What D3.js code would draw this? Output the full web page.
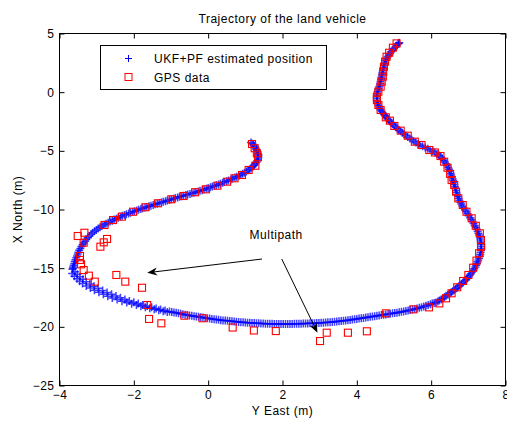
<!DOCTYPE html>
<html>
<head>
<meta charset="utf-8">
<script src="https://cdn.jsdelivr.net/npm/d3@7"></script>
<style>
  html, body { margin: 0; padding: 0; background: #fff; }
  svg { display: block; }
  text { font-family: "Liberation Sans", Arial, Helvetica, sans-serif; fill: #000; }
</style>
</head>
<body>
<svg id="chart" width="507" height="422"></svg>
<script>
// Axis ticks
const eastTicks = [-4, -2, 0, 2, 4, 6, 8];
const northTicks = [-25, -20, -15, -10, -5, 0, 5];

// Filtered (UKF+PF) trajectory, [east, north] in metres
const ukfPath = [
  [1.15,-4.28],[1.19,-4.39],[1.22,-4.50],[1.25,-4.61],[1.27,-4.72],[1.29,-4.84],[1.31,-4.95],[1.33,-5.08],
  [1.34,-5.20],[1.35,-5.33],[1.35,-5.45],[1.35,-5.59],[1.34,-5.72],[1.32,-5.85],[1.30,-5.98],[1.27,-6.10],
  [1.24,-6.22],[1.20,-6.34],[1.16,-6.45],[1.12,-6.56],[1.08,-6.66],[1.03,-6.76],[0.98,-6.86],[0.93,-6.95],
  [0.88,-7.04],[0.83,-7.12],[0.77,-7.20],[0.72,-7.28],[0.66,-7.36],[0.61,-7.44],[0.55,-7.52],[0.50,-7.59],
  [0.44,-7.66],[0.39,-7.73],[0.33,-7.80],[0.28,-7.87],[0.22,-7.93],[0.17,-7.99],[0.11,-8.05],[0.06,-8.11],
  [0.00,-8.17],[-0.05,-8.23],[-0.11,-8.29],[-0.16,-8.35],[-0.22,-8.40],[-0.27,-8.46],[-0.33,-8.51],[-0.38,-8.57],
  [-0.44,-8.62],[-0.49,-8.67],[-0.55,-8.72],[-0.60,-8.77],[-0.66,-8.82],[-0.71,-8.87],[-0.77,-8.92],[-0.82,-8.98],
  [-0.88,-9.03],[-0.93,-9.08],[-0.99,-9.13],[-1.04,-9.19],[-1.10,-9.24],[-1.15,-9.30],[-1.21,-9.35],[-1.26,-9.40],
  [-1.32,-9.45],[-1.37,-9.51],[-1.43,-9.56],[-1.48,-9.62],[-1.54,-9.67],[-1.59,-9.73],[-1.65,-9.78],[-1.70,-9.84],
  [-1.76,-9.90],[-1.81,-9.96],[-1.87,-10.02],[-1.92,-10.08],[-1.98,-10.14],[-2.03,-10.21],[-2.09,-10.27],[-2.14,-10.34],
  [-2.20,-10.40],[-2.25,-10.47],[-2.31,-10.54],[-2.36,-10.62],[-2.42,-10.70],[-2.47,-10.78],[-2.53,-10.86],[-2.58,-10.95],
  [-2.64,-11.03],[-2.69,-11.12],[-2.75,-11.21],[-2.80,-11.31],[-2.86,-11.41],[-2.91,-11.51],[-2.96,-11.62],[-3.01,-11.74],
  [-3.06,-11.86],[-3.11,-11.99],[-3.15,-12.12],[-3.20,-12.26],[-3.24,-12.40],[-3.28,-12.55],[-3.31,-12.70],[-3.35,-12.85],
  [-3.38,-13.00],[-3.41,-13.16],[-3.44,-13.32],[-3.47,-13.48],[-3.49,-13.64],[-3.51,-13.80],[-3.53,-13.96],[-3.55,-14.12],
  [-3.57,-14.28],[-3.59,-14.44],[-3.60,-14.60],[-3.62,-14.75],[-3.63,-14.90],[-3.64,-15.00],[-3.65,-15.10],
  [-3.66,-15.45],[-3.58,-15.30],[-3.60,-15.68],[-3.52,-15.52],[-3.53,-15.90],[-3.45,-15.74],[-3.46,-16.11],[-3.37,-15.95],
  [-3.38,-16.31],[-3.28,-16.15],[-3.28,-16.51],[-3.18,-16.35],[-3.17,-16.70],[-3.07,-16.54],[-3.06,-16.88],[-2.96,-16.72],
  [-2.94,-17.06],[-2.84,-16.90],[-2.82,-17.23],[-2.72,-17.07],[-2.70,-17.39],[-2.60,-17.23],[-2.58,-17.54],[-2.48,-17.38],
  [-2.45,-17.68],[-2.36,-17.52],[-2.32,-17.81],[-2.24,-17.66],[-2.19,-17.93],[-2.12,-17.79],[-2.06,-18.04],[-2.00,-17.91],
  [-1.93,-18.14],[-1.88,-18.02],[-1.81,-18.24],[-1.76,-18.13],[-1.69,-18.33],[-1.64,-18.23],[-1.57,-18.42],[-1.52,-18.33],
  [-1.45,-18.51],[-1.40,-18.43],[-1.33,-18.59],[-1.28,-18.52],[-1.21,-18.67],[-1.16,-18.61],[-1.10,-18.73],[-1.04,-18.69],
  [-0.98,-18.73],[-0.92,-18.77],[-0.86,-18.81],[-0.80,-18.85],[-0.74,-18.89],[-0.68,-18.92],[-0.62,-18.96],[-0.56,-18.99],
  [-0.50,-19.03],[-0.44,-19.06],[-0.38,-19.09],[-0.32,-19.12],[-0.26,-19.15],[-0.20,-19.18],[-0.14,-19.21],[-0.08,-19.24],
  [-0.02,-19.27],[0.04,-19.30],[0.10,-19.33],[0.16,-19.35],[0.22,-19.38],[0.28,-19.40],[0.34,-19.43],[0.40,-19.45],
  [0.46,-19.47],[0.52,-19.49],[0.58,-19.51],[0.64,-19.53],[0.70,-19.55],[0.76,-19.57],[0.82,-19.59],[0.88,-19.60],
  [0.94,-19.62],[1.00,-19.63],[1.06,-19.65],[1.12,-19.66],[1.18,-19.67],[1.24,-19.68],[1.30,-19.69],[1.36,-19.70],
  [1.42,-19.71],[1.48,-19.72],[1.54,-19.73],[1.60,-19.73],[1.66,-19.74],[1.72,-19.74],[1.78,-19.75],[1.84,-19.75],
  [1.90,-19.75],[1.96,-19.75],[2.02,-19.75],[2.08,-19.75],[2.14,-19.75],[2.20,-19.75],[2.26,-19.75],[2.32,-19.74],
  [2.38,-19.74],[2.44,-19.73],[2.50,-19.73],[2.56,-19.72],[2.62,-19.72],[2.68,-19.71],[2.74,-19.70],[2.80,-19.69],
  [2.86,-19.69],[2.92,-19.68],[2.98,-19.67],[3.04,-19.66],[3.10,-19.65],[3.16,-19.63],[3.22,-19.62],[3.28,-19.60],
  [3.34,-19.59],[3.40,-19.57],[3.46,-19.55],[3.52,-19.53],[3.58,-19.51],[3.64,-19.48],[3.70,-19.46],[3.76,-19.43],
  [3.82,-19.41],[3.88,-19.38],[3.94,-19.36],[4.00,-19.33],[4.06,-19.30],[4.12,-19.27],[4.18,-19.24],[4.24,-19.21],
  [4.30,-19.18],[4.36,-19.15],[4.42,-19.12],[4.48,-19.09],[4.54,-19.06],[4.60,-19.03],[4.66,-19.00],[4.72,-18.97],
  [4.78,-18.94],[4.84,-18.91],[4.90,-18.88],[4.96,-18.85],[5.02,-18.82],[5.08,-18.79],[5.14,-18.76],[5.20,-18.72],
  [5.26,-18.69],[5.32,-18.65],[5.38,-18.61],[5.44,-18.57],[5.50,-18.53],[5.56,-18.48],[5.62,-18.43],[5.68,-18.38],
  [5.74,-18.33],[5.80,-18.27],[5.86,-18.21],[5.92,-18.14],[5.98,-18.08],[6.03,-18.02],[6.08,-17.97],[6.13,-17.92],
  [6.18,-17.84],[6.22,-17.76],[6.27,-17.66],[6.31,-17.56],[6.36,-17.46],[6.40,-17.36],[6.45,-17.26],[6.50,-17.15],
  [6.54,-17.06],[6.58,-16.96],[6.62,-16.86],[6.66,-16.76],[6.70,-16.66],[6.74,-16.55],[6.78,-16.44],[6.82,-16.33],
  [6.86,-16.22],[6.90,-16.10],[6.94,-15.98],[6.97,-15.86],[7.01,-15.73],[7.04,-15.60],[7.07,-15.47],[7.10,-15.33],
  [7.13,-15.19],[7.16,-15.05],[7.19,-14.91],[7.21,-14.76],[7.23,-14.61],[7.25,-14.46],[7.27,-14.31],[7.29,-14.15],
  [7.31,-13.99],[7.32,-13.83],[7.33,-13.67],[7.34,-13.50],[7.35,-13.34],[7.35,-13.17],[7.35,-13.00],[7.34,-12.84],
  [7.33,-12.68],[7.32,-12.51],[7.31,-12.35],[7.29,-12.18],[7.27,-12.02],[7.25,-11.85],[7.23,-11.69],[7.20,-11.52],
  [7.17,-11.36],[7.14,-11.19],[7.11,-11.03],[7.08,-10.86],[7.05,-10.70],[7.01,-10.53],[6.98,-10.37],[6.94,-10.20],
  [6.91,-10.04],[6.87,-9.87],[6.84,-9.71],[6.81,-9.54],[6.79,-9.38],[6.76,-9.21],[6.74,-9.05],[6.72,-8.88],
  [6.70,-8.72],[6.68,-8.55],[6.67,-8.39],[6.65,-8.22],[6.64,-8.06],[6.62,-7.89],[6.61,-7.73],[6.59,-7.56],
  [6.58,-7.40],[6.56,-7.23],[6.54,-7.07],[6.52,-6.90],[6.50,-6.74],[6.48,-6.57],[6.46,-6.41],[6.43,-6.25],
  [6.40,-6.10],[6.37,-5.95],[6.34,-5.81],[6.30,-5.66],[6.26,-5.53],[6.21,-5.39],[6.16,-5.26],[6.10,-5.14],
  [6.04,-5.04],[5.97,-4.93],[5.91,-4.83],[5.84,-4.72],[5.77,-4.62],[5.70,-4.52],[5.65,-4.41],[5.59,-4.30],
  [5.53,-4.18],[5.48,-4.06],[5.43,-3.94],[5.37,-3.82],[5.32,-3.70],[5.27,-3.58],[5.22,-3.46],[5.18,-3.34],
  [5.13,-3.22],[5.09,-3.10],[5.05,-2.98],[5.01,-2.86],[4.97,-2.74],[4.93,-2.62],[4.89,-2.50],[4.86,-2.38],
  [4.82,-2.26],[4.79,-2.14],[4.76,-2.02],[4.73,-1.90],[4.70,-1.78],[4.67,-1.65],[4.64,-1.52],[4.62,-1.40],
  [4.60,-1.26],[4.58,-1.13],[4.56,-0.98],[4.55,-0.84],[4.54,-0.70],[4.54,-0.55],[4.54,-0.40],[4.54,-0.26],
  [4.55,-0.11],[4.56,0.03],[4.57,0.18],[4.59,0.32],[4.60,0.47],[4.62,0.62],[4.63,0.77],[4.64,0.92],
  [4.65,1.07],[4.66,1.22],[4.67,1.37],[4.68,1.52],[4.69,1.67],[4.70,1.82],[4.71,1.97],[4.72,2.12],
  [4.73,2.27],[4.75,2.42],[4.76,2.57],[4.78,2.72],[4.80,2.87],[4.83,3.01],[4.86,3.15],[4.89,3.30],
  [4.92,3.44],[4.96,3.58],[5.00,3.72],[5.04,3.86],[5.07,3.98],[5.11,4.10],[5.13,4.16],[5.14,4.22]
];

// Raw GPS fixes, [east, north] in metres
const gpsFixes = [
  [1.18,-4.42],[1.25,-4.78],[1.31,-5.21],[1.34,-5.55],[1.27,-6.27],[1.09,-6.63],[0.91,-7.06],[0.71,-7.34],
  [0.51,-7.63],[0.25,-7.97],[-0.06,-8.28],[-0.35,-8.53],[-0.66,-8.85],[-0.99,-9.13],[-1.35,-9.47],[-1.69,-9.81],
  [-2.02,-10.19],[-2.32,-10.61],[-2.56,-10.90],[-2.79,-11.32],[-3.33,-11.98],[-3.51,-12.26],[-3.35,-12.83],[-2.72,-12.51],
  [-2.81,-12.80],[-2.90,-13.17],[-3.45,-13.96],[-3.45,-14.30],[-3.42,-14.67],[-3.35,-15.16],[-3.21,-15.64],[-3.05,-16.15],
  [-2.47,-15.58],[-2.23,-16.15],[-1.78,-16.67],[-1.64,-18.14],[-1.59,-19.33],[-1.26,-19.70],[-0.64,-19.05],[-0.15,-19.27],
  [0.66,-20.06],[1.23,-20.31],[1.82,-20.36],[3.01,-21.21],[3.19,-20.50],[3.76,-20.50],[4.27,-20.38],[4.78,-18.85],
  [5.52,-18.51],[5.94,-18.34],[6.22,-18.00],[6.40,-17.57],[6.55,-17.14],[6.70,-16.63],[6.86,-16.09],[7.00,-15.58],
  [7.13,-14.96],[7.22,-14.36],[7.29,-13.73],[7.34,-13.17],[7.34,-12.60],[7.31,-12.03],[7.20,-11.38],[7.09,-10.75],
  [6.95,-10.19],[6.85,-9.62],[6.73,-9.05],[6.67,-8.48],[6.62,-7.91],[6.55,-7.49],[6.51,-6.97],[6.44,-6.44],
  [6.35,-5.93],[6.25,-5.44],[6.10,-5.14],[5.95,-4.93],[5.74,-4.50],[5.56,-4.22],[5.37,-3.71],[5.18,-3.28],
  [5.01,-2.88],[4.89,-2.43],[4.78,-2.14],[4.64,-1.52],[4.58,-1.09],[4.54,-0.67],[4.54,-0.39],[4.58,0.04],
  [4.64,0.47],[4.67,0.89],[4.70,1.32],[4.71,1.74],[4.73,2.17],[4.76,2.60],[4.80,3.02],[4.87,3.36],
  [4.97,3.79],[5.07,4.16]
];

// Annotation: label and the two arrows pointing at multipath fixes
const multipathLabel = { text: "Multipath", at: [1.83, -12.17] };
const multipathArrows = [
  { from: [1.45, -14.22], to: [-1.64, -15.39] },
  { from: [1.98, -14.22], to: [2.94, -20.50] }
];

const seriesNames = ["UKF+PF estimated position", "GPS data"];

const svg = d3.select("#chart");
const box = { left: 59.5, right: 505.5, top: 33.5, bottom: 385.5 };

const x = d3.scaleLinear().domain([-4, 8]).range([box.left, box.right]);
const y = d3.scaleLinear().domain([-25, 5]).range([box.bottom, box.top]);

const fmt = d => (d < 0 ? "\u2212" + Math.abs(d) : String(d));
const FONT = 12;
const LS = "0.5px";

// Axes with inward ticks on all four sides
const gx = svg.append("g").attr("transform", `translate(0,${box.bottom})`)
  .call(d3.axisBottom(x).tickValues(eastTicks).tickFormat(fmt).tickSizeInner(-5).tickSizeOuter(0).tickPadding(5));
const gxt = svg.append("g").attr("transform", `translate(0,${box.top})`)
  .call(d3.axisTop(x).tickValues(eastTicks).tickFormat("").tickSizeInner(-5).tickSizeOuter(0));
const gy = svg.append("g").attr("transform", `translate(${box.left},0)`)
  .call(d3.axisLeft(y).tickValues(northTicks).tickFormat(fmt).tickSizeInner(-5).tickSizeOuter(0).tickPadding(5));
const gyr = svg.append("g").attr("transform", `translate(${box.right},0)`)
  .call(d3.axisRight(y).tickValues(northTicks).tickFormat("").tickSizeInner(-5).tickSizeOuter(0));

[gx, gxt, gy, gyr].forEach(g => {
  g.select(".domain").remove();
  g.selectAll(".tick line").attr("stroke", "#000").attr("stroke-width", 1);
  g.selectAll("text").attr("font-size", FONT).attr("letter-spacing", LS)
    .attr("font-family", "Liberation Sans, Arial, sans-serif").attr("fill", "#000");
});

// Plot frame
svg.append("rect")
  .attr("x", box.left).attr("y", box.top)
  .attr("width", box.right - box.left).attr("height", box.bottom - box.top)
  .attr("fill", "none").attr("stroke", "#000").attr("stroke-width", 1);

const plot = svg.append("g");

// UKF+PF estimate as '+' markers
const plusPath = "M-3.5,0H3.5M0,-3.5V3.5";
const markerPath = "M-4,0H4M0,-4V4";
plot.append("g").selectAll("path").data(ukfPath).join("path")
  .attr("transform", d => `translate(${x(d[0])},${y(d[1])})`)
  .attr("d", markerPath)
  .attr("fill", "none").attr("stroke", "#0000ff").attr("stroke-opacity", 0.75).attr("stroke-width", 1.5);

// GPS fixes as open squares
plot.append("g").selectAll("rect").data(gpsFixes).join("rect")
  .attr("x", d => x(d[0]) - 3.5).attr("y", d => y(d[1]) - 3.5)
  .attr("width", 7).attr("height", 7)
  .attr("fill", "none").attr("stroke", "#ff0000").attr("stroke-width", 1.1);

// Annotation arrows
function arrow(g, p0, p1) {
  const x0 = x(p0[0]), y0 = y(p0[1]), x1 = x(p1[0]), y1 = y(p1[1]);
  const dx = x1 - x0, dy = y1 - y0, len = Math.hypot(dx, dy);
  const ux = dx / len, uy = dy / len, nx = -uy, ny = ux;
  const L = 10, W = 4, N = 3;
  g.append("line").attr("x1", x0).attr("y1", y0)
    .attr("x2", x1 - ux * (L - N)).attr("y2", y1 - uy * (L - N))
    .attr("stroke", "#000").attr("stroke-width", 1);
  const pts = [
    [x1, y1],
    [x1 - ux * L + nx * W, y1 - uy * L + ny * W],
    [x1 - ux * (L - N), y1 - uy * (L - N)],
    [x1 - ux * L - nx * W, y1 - uy * L - ny * W]
  ];
  g.append("path").attr("d", "M" + pts.map(p => p.join(",")).join("L") + "Z").attr("fill", "#000");
}
const ann = svg.append("g");
multipathArrows.forEach(a => arrow(ann, a.from, a.to));
ann.append("text")
  .attr("x", x(multipathLabel.at[0])).attr("y", y(multipathLabel.at[1]))
  .attr("text-anchor", "middle").attr("dominant-baseline", "central")
  .attr("font-size", FONT).attr("letter-spacing", LS)
  .text(multipathLabel.text);

// Legend
const lg = svg.append("g");
lg.append("rect").attr("x", 100.5).attr("y", 45.5).attr("width", 226).attr("height", 44)
  .attr("fill", "#fff").attr("stroke", "#000").attr("stroke-width", 1);
lg.append("path").attr("transform", "translate(128.5,58.5)").attr("d", plusPath)
  .attr("fill", "none").attr("stroke", "#0000ff").attr("stroke-width", 1);
lg.append("rect").attr("x", 125).attr("y", 73.5).attr("width", 7).attr("height", 7)
  .attr("fill", "none").attr("stroke", "#ff0000").attr("stroke-width", 1);
lg.selectAll("text.lab").data(seriesNames).join("text").attr("class", "lab")
  .attr("x", 154).attr("y", (d, i) => 58.5 + i * 19)
  .attr("dominant-baseline", "central")
  .attr("font-size", FONT).attr("letter-spacing", LS)
  .text(d => d);

// Title and axis labels
svg.append("text").attr("x", (box.left + box.right) / 2).attr("y", 18.5)
  .attr("text-anchor", "middle").attr("dominant-baseline", "central")
  .attr("font-size", FONT).attr("letter-spacing", LS)
  .text("Trajectory of the land vehicle");
svg.append("text").attr("x", (box.left + box.right) / 2).attr("y", 411)
  .attr("text-anchor", "middle").attr("dominant-baseline", "central")
  .attr("font-size", FONT).attr("letter-spacing", LS)
  .text("Y East (m)");
svg.append("text").attr("transform", `translate(18,${(box.top + box.bottom) / 2}) rotate(-90)`)
  .attr("text-anchor", "middle").attr("dominant-baseline", "central")
  .attr("font-size", FONT).attr("letter-spacing", LS)
  .text("X North (m)");
</script>
</body>
</html>
